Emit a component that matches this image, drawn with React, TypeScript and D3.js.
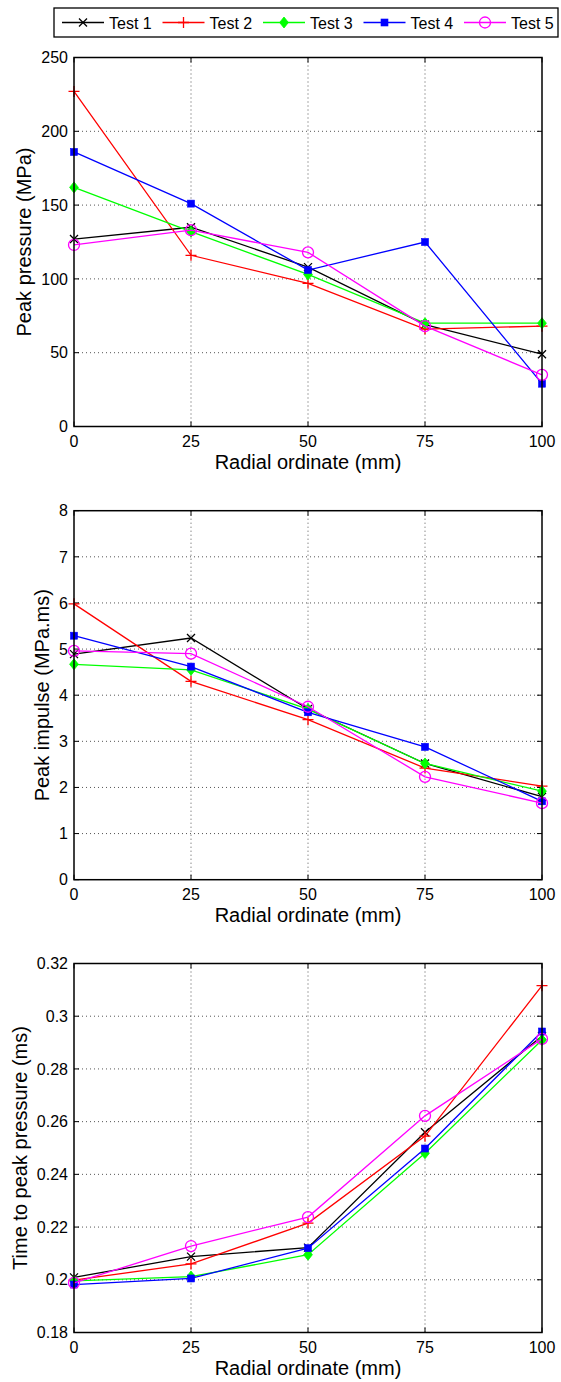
import React from "react";
import * as d3 from "d3";

const radial = [0, 25, 50, 75, 100];
const xTicks = [0, 25, 50, 75, 100];
const seriesNames = ["Test 1", "Test 2", "Test 3", "Test 4", "Test 5"];
const seriesColors = ["#000000", "#ff0000", "#00ff00", "#0000ff", "#ff00ff"];
const seriesMarkers = ["x", "plus", "diamond", "square", "circle"];

const pressureT1 = [127, 135, 108, 69, 49];
const pressureT2 = [227, 116, 97, 66, 68];
const pressureT3 = [162, 132, 103, 70, 70];
const pressureT4 = [186, 151, 106, 125, 29];
const pressureT5 = [123, 133, 118, 68, 35];

const impulseT1 = [4.89, 5.24, 3.7, 2.52, 1.8];
const impulseT2 = [5.98, 4.3, 3.47, 2.42, 2.03];
const impulseT3 = [4.67, 4.55, 3.7, 2.52, 1.92];
const impulseT4 = [5.29, 4.62, 3.63, 2.88, 1.7];
const impulseT5 = [4.96, 4.9, 3.75, 2.23, 1.66];

const timeT1 = [0.2009, 0.2088, 0.2122, 0.256, 0.2925];
const timeT2 = [0.1999, 0.206, 0.2215, 0.2545, 0.3116];
const timeT3 = [0.1996, 0.2012, 0.2095, 0.248, 0.291];
const timeT4 = [0.1982, 0.2005, 0.212, 0.2498, 0.2942];
const timeT5 = [0.1988, 0.2128, 0.2238, 0.2622, 0.2914];

const pressureTicks = [0, 50, 100, 150, 200, 250];
const impulseTicks = [0, 1, 2, 3, 4, 5, 6, 7, 8];
const timeTicks = [0.18, 0.2, 0.22, 0.24, 0.26, 0.28, 0.3, 0.32];

const panels = [
  {
    ylabel: "Peak pressure (MPa)",
    domain: [0, 250],
    ticks: pressureTicks,
    series: [pressureT1, pressureT2, pressureT3, pressureT4, pressureT5],
  },
  {
    ylabel: "Peak impulse (MPa.ms)",
    domain: [0, 8],
    ticks: impulseTicks,
    series: [impulseT1, impulseT2, impulseT3, impulseT4, impulseT5],
  },
  {
    ylabel: "Time to peak pressure (ms)",
    domain: [0.18, 0.32],
    ticks: timeTicks,
    series: [timeT1, timeT2, timeT3, timeT4, timeT5],
  },
];

const FONT = "'Liberation Sans', Arial, Helvetica, sans-serif";
const W = 561;
const H = 1382;
const LEFT = 74;
const RIGHT = 542;
const TOPS = [57.5, 510.7, 963.5];
const PH = 369;
const TICKFS = 16;
const LABELFS = 20;

const fmt = (v: number) => String(+v.toFixed(2));
const textW = (s: string) =>
  s.split("").reduce((a, c) => a + (c === "." ? 0.278 : 0.556), 0) * TICKFS;

function Marker({ kind, x, y, color }: { kind: string; x: number; y: number; color: string }) {
  const sw = 1.3;
  if (kind === "x") {
    const h = 4;
    return (
      <path d={`M${x - h},${y - h}L${x + h},${y + h}M${x - h},${y + h}L${x + h},${y - h}`} stroke={color} strokeWidth={sw} fill="none" />
    );
  }
  if (kind === "plus") {
    const h = 5.5;
    return <path d={`M${x - h},${y}L${x + h},${y}M${x},${y - h}L${x},${y + h}`} stroke={color} strokeWidth={sw} fill="none" />;
  }
  if (kind === "diamond") {
    const h = 5.5;
    return <path d={`M${x},${y - h}L${x + h * 0.8},${y}L${x},${y + h}L${x - h * 0.8},${y}Z`} fill={color} stroke={color} strokeWidth={0.8} />;
  }
  if (kind === "square") {
    const h = 3.5;
    return <rect x={x - h} y={y - h} width={2 * h} height={2 * h} fill={color} stroke={color} strokeWidth={0.6} />;
  }
  return <circle cx={x} cy={y} r={5.5} fill="none" stroke={color} strokeWidth={sw} />;
}

function Panel({ idx }: { idx: number }) {
  const p = panels[idx];
  const top = TOPS[idx];
  const bottom = top + PH;
  const x = d3.scaleLinear().domain([0, 100]).range([LEFT, RIGHT]);
  const y = d3.scaleLinear().domain(p.domain).range([bottom, top]);
  const line = d3
    .line<number>()
    .x((_, i) => x(radial[i]))
    .y((d) => y(d));
  const maxW = d3.max(p.ticks, (t) => textW(fmt(t))) as number;
  const labelX = LEFT - 6 - maxW - 10;
  const tl = 5;
  return (
    <g>
      {/* grid */}
      {xTicks.slice(1, -1).map((t) => (
        <line key={"gx" + t} x1={x(t)} x2={x(t)} y1={top} y2={bottom} stroke="#555" strokeWidth={1} strokeDasharray="1,3" />
      ))}
      {p.ticks.slice(1, -1).map((t) => (
        <line key={"gy" + t} x1={LEFT} x2={RIGHT} y1={y(t)} y2={y(t)} stroke="#555" strokeWidth={1} strokeDasharray="1,3" />
      ))}
      {/* ticks */}
      {xTicks.map((t) => (
        <g key={"tx" + t}>
          <line x1={x(t)} x2={x(t)} y1={bottom} y2={bottom - tl} stroke="#000" strokeWidth={1} />
          <line x1={x(t)} x2={x(t)} y1={top} y2={top + tl} stroke="#000" strokeWidth={1} />
          <text x={x(t)} y={bottom + 20} textAnchor="middle" fontSize={TICKFS} fontFamily={FONT}>
            {fmt(t)}
          </text>
        </g>
      ))}
      {p.ticks.map((t) => (
        <g key={"ty" + t}>
          <line x1={LEFT} x2={LEFT + tl} y1={y(t)} y2={y(t)} stroke="#000" strokeWidth={1} />
          <line x1={RIGHT} x2={RIGHT - tl} y1={y(t)} y2={y(t)} stroke="#000" strokeWidth={1} />
          <text x={LEFT - 6} y={y(t) + 5.7} textAnchor="end" fontSize={TICKFS} fontFamily={FONT}>
            {fmt(t)}
          </text>
        </g>
      ))}
      {/* series */}
      {p.series.map((s, si) => (
        <g key={"s" + si}>
          <path d={line(s) as string} fill="none" stroke={seriesColors[si]} strokeWidth={1.3} />
          {s.map((v, i) => (
            <Marker key={i} kind={seriesMarkers[si]} x={x(radial[i])} y={y(v)} color={seriesColors[si]} />
          ))}
        </g>
      ))}
      {/* box */}
      <rect x={LEFT} y={top} width={RIGHT - LEFT} height={PH} fill="none" stroke="#000" strokeWidth={1.5} />
      {/* labels */}
      <text x={(LEFT + RIGHT) / 2} y={bottom + 42} textAnchor="middle" fontSize={LABELFS} fontFamily={FONT}>
        Radial ordinate (mm)
      </text>
      <text
        transform={`translate(${labelX},${(top + bottom) / 2}) rotate(-90)`}
        textAnchor="middle"
        fontSize={LABELFS}
        fontFamily={FONT}
      >
        {p.ylabel}
      </text>
    </g>
  );
}

function Legend() {
  const x0 = 62;
  const step = 100.5;
  return (
    <g>
      <rect x={54} y={8} width={504} height={29} fill="#fff" stroke="#000" strokeWidth={1.3} />
      {seriesNames.map((n, i) => {
        const lx = x0 + i * step;
        return (
          <g key={n}>
            <line x1={lx} x2={lx + 42} y1={22.5} y2={22.5} stroke={seriesColors[i]} strokeWidth={1.3} />
            <Marker kind={seriesMarkers[i]} x={lx + 21} y={22.5} color={seriesColors[i]} />
            <text x={lx + 47} y={28.5} fontSize={16} fontFamily={FONT}>
              {n}
            </text>
          </g>
        );
      })}
    </g>
  );
}

export default function App() {
  return (
    <svg width={W} height={H} style={{ position: "absolute", left: 0, top: 0, background: "#fff" }}>
      <rect x={0} y={0} width={W} height={H} fill="#fff" />
      {panels.map((_, i) => (
        <Panel key={i} idx={i} />
      ))}
      <Legend />
    </svg>
  );
}
